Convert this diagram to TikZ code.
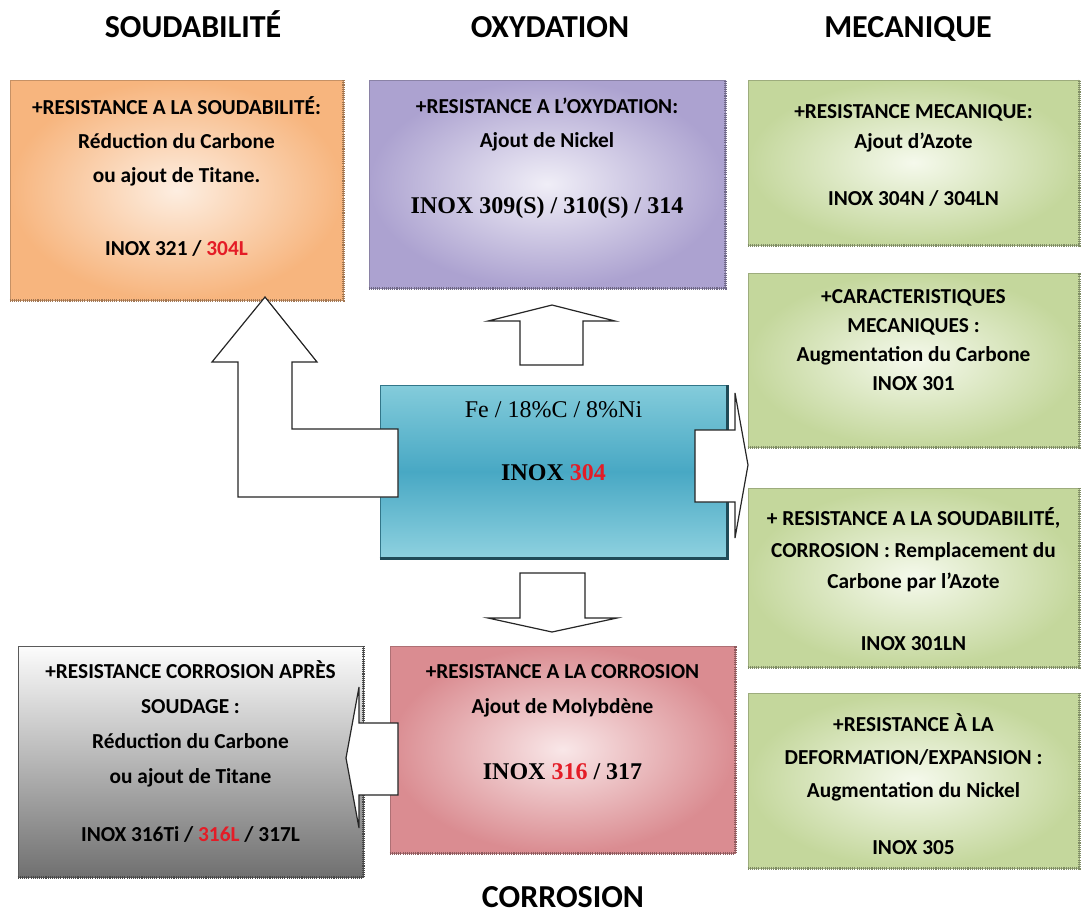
\documentclass[tikz,border=0pt]{standalone}
\usepackage{fontspec}
\setmainfont{Liberation Serif}
\newfontfamily\calib{Carlito}

\definecolor{soudout}{RGB}{247,181,126}
\definecolor{soudin}{RGB}{253,238,225}
\definecolor{oxydout}{RGB}{172,162,208}
\definecolor{oxydin}{RGB}{240,238,247}
\definecolor{mecaout}{RGB}{196,215,156}
\definecolor{mecain}{RGB}{245,249,236}
\definecolor{inoxtop}{RGB}{132,204,219}
\definecolor{inoxmid}{RGB}{72,168,196}
\definecolor{inoxbot}{RGB}{142,209,223}
\definecolor{corrout}{RGB}{218,140,145}
\definecolor{corrin}{RGB}{249,231,232}
\definecolor{graytop}{RGB}{252,252,252}
\definecolor{graybot}{RGB}{112,112,112}
\definecolor{inoxred}{RGB}{228,28,38}

\newcommand{\rd}[1]{\textcolor{inoxred}{#1}}
\newcommand{\serifb}{\rmfamily\fontsize{18}{22}\selectfont}

\tikzset{
  box/.style={rectangle, inner sep=0pt, draw=#1, line width=0.4pt},
  txt/.style={align=center, inner sep=0pt, font=\calib\bfseries\fontsize{16}{#1}\selectfont},
  titre/.style={anchor=base, inner sep=0pt, font=\calib\bfseries\fontsize{24}{28}\selectfont},
  bloc/.style={draw=black!85, fill=white, line width=0.9pt, line join=miter},
  ombre/.style={line width=2.2pt, dash pattern=on 0.8pt off 0.8pt, draw=#1}
}

\begin{document}
\begin{tikzpicture}[x=0.75pt, y=-0.75pt]
  \useasboundingbox (0,0) rectangle (1081,914);

  % titres
  \node[titre] (t-soud) at (193,37) {SOUDABILITÉ};
  \node[titre] (t-oxyd) at (550,37) {OXYDATION};
  \node[titre] (t-meca) at (908,37) {MECANIQUE};
  \node[titre] (t-corr) at (563,907) {CORROSION};

  % boites
  \node[box=soudout!80!black, inner color=soudin, outer color=soudout,
        minimum width=249.75pt, minimum height=165pt] (soud) at (176.5,190) {};
  \node[box=oxydout!80!black, inner color=oxydin, outer color=oxydout,
        minimum width=267pt, minimum height=156pt] (oxyd) at (547,184) {};
  \node[box=mecaout!80!black, inner color=mecain, outer color=mecaout,
        minimum width=248.25pt, minimum height=123.75pt] (azote) at (913.5,162.5) {};
  \node[box=mecaout!80!black, inner color=mecain, outer color=mecaout,
        minimum width=248.25pt, minimum height=130.5pt] (carbone) at (913.5,360) {};
  \node[box=mecaout!80!black, inner color=mecain, outer color=mecaout,
        minimum width=248.25pt, minimum height=134.25pt] (azoteln) at (913.5,577.5) {};
  \node[box=mecaout!80!black, inner color=mecain, outer color=mecaout,
        minimum width=248.25pt, minimum height=131.25pt] (nickel) at (913.5,780.5) {};
  \node[box=inoxmid!70!black, top color=inoxtop, bottom color=inoxbot, middle color=inoxmid,
        minimum width=260.25pt, minimum height=129.75pt] (inox) at (553.5,471.5) {};
  \node[box=corrout!80!black, inner color=corrin, outer color=corrout,
        minimum width=258.75pt, minimum height=155.25pt] (corr) at (562.5,749.5) {};
  \node[box=graybot!80!black, top color=graytop, bottom color=graybot,
        minimum width=258.75pt, minimum height=173.25pt] (apres) at (190.5,761.5) {};

  % ombres
  \foreach \b/\c in {soud/soudout, oxyd/oxydout, azote/mecaout, carbone/mecaout,
                     azoteln/mecaout, nickel/mecaout, corr/corrout, apres/graybot}
    \draw[ombre=\c!65!black] (\b.south west) -- (\b.south east) -- (\b.north east);
  \draw[line width=2pt, inoxmid!45!black] (inox.south west) -- (inox.south east) -- (inox.north east);

  % textes
  \node[txt=25.5] (soud-t) at (176.5,176.5)
    {+RESISTANCE A LA SOUDABILITÉ:\\ Réduction du Carbone\\ ou ajout de Titane.\\[29.25pt]
     INOX 321 / \rd{304L}};
  \node[txt=25.5] (oxyd-t) at (547,158)
    {+RESISTANCE A L’OXYDATION:\\ Ajout de Nickel\\[24pt]
     {\serifb INOX 309(S) / 310(S) / 314}};
  \node[txt=22.5] (azote-t) at (913.5,155.5)
    {+RESISTANCE MECANIQUE:\\ Ajout d’Azote\\[20.25pt] INOX 304N / 304LN};
  \node[txt=21.75] (carbone-t) at (913.5,340.5)
    {+CARACTERISTIQUES\\ MECANIQUES :\\ Augmentation du Carbone\\ INOX 301};
  \node[txt=23.6] (azoteln-t) at (913.5,579.5)
    {+ RESISTANCE A LA SOUDABILITÉ,\\ CORROSION : Remplacement du\\ Carbone par l’Azote\\[23pt]
     INOX 301LN};
  \node[txt=25] (nickel-t) at (913.5,784)
    {+RESISTANCE À LA\\ DEFORMATION/EXPANSION :\\ Augmentation du Nickel\\[17.75pt] INOX 305};
  \node[align=center, inner sep=0pt, font=\rmfamily\fontsize{18}{47.25}\selectfont] (inox-t) at (553.5,441.5)
    {Fe / 18\%C / 8\%Ni\\ \textbf{INOX \rd{304}}};
  \node[txt=26.25] (corr-t) at (562.5,722.5)
    {+RESISTANCE A LA CORROSION\\ Ajout de Molybdène\\[23.25pt]
     {\serifb INOX \rd{316} / 317}};
  \node[txt=26.25] (apres-t) at (190.5,752)
    {+RESISTANCE CORROSION APRÈS\\ SOUDAGE :\\ Réduction du Carbone\\ ou ajout de Titane\\[17.25pt]
     INOX 316Ti / \rd{316L} / 317L};

  % fleches
  \draw[bloc] (398,429) -- (292,429) -- (292,362) -- (317,362) -- (265,297)
    -- (212,362) -- (238,362) -- (238,497) -- (398,497) -- cycle;
  \draw[bloc] (520,365) -- (520,321) -- (488,321) -- (552,305) -- (615,321)
    -- (583,321) -- (583,365) -- cycle;
  \draw[bloc] (695,430) -- (735,430) -- (735,393) -- (748,465) -- (735,538)
    -- (735,502) -- (695,502) -- cycle;
  \draw[bloc] (520,573) -- (585,573) -- (585,618) -- (617,618) -- (552,632)
    -- (488,618) -- (520,618) -- cycle;
  \draw[bloc] (398,723) -- (359,723) -- (359,687) -- (346,758) -- (359,828)
    -- (359,795) -- (398,795) -- cycle;
\end{tikzpicture}
\end{document}
